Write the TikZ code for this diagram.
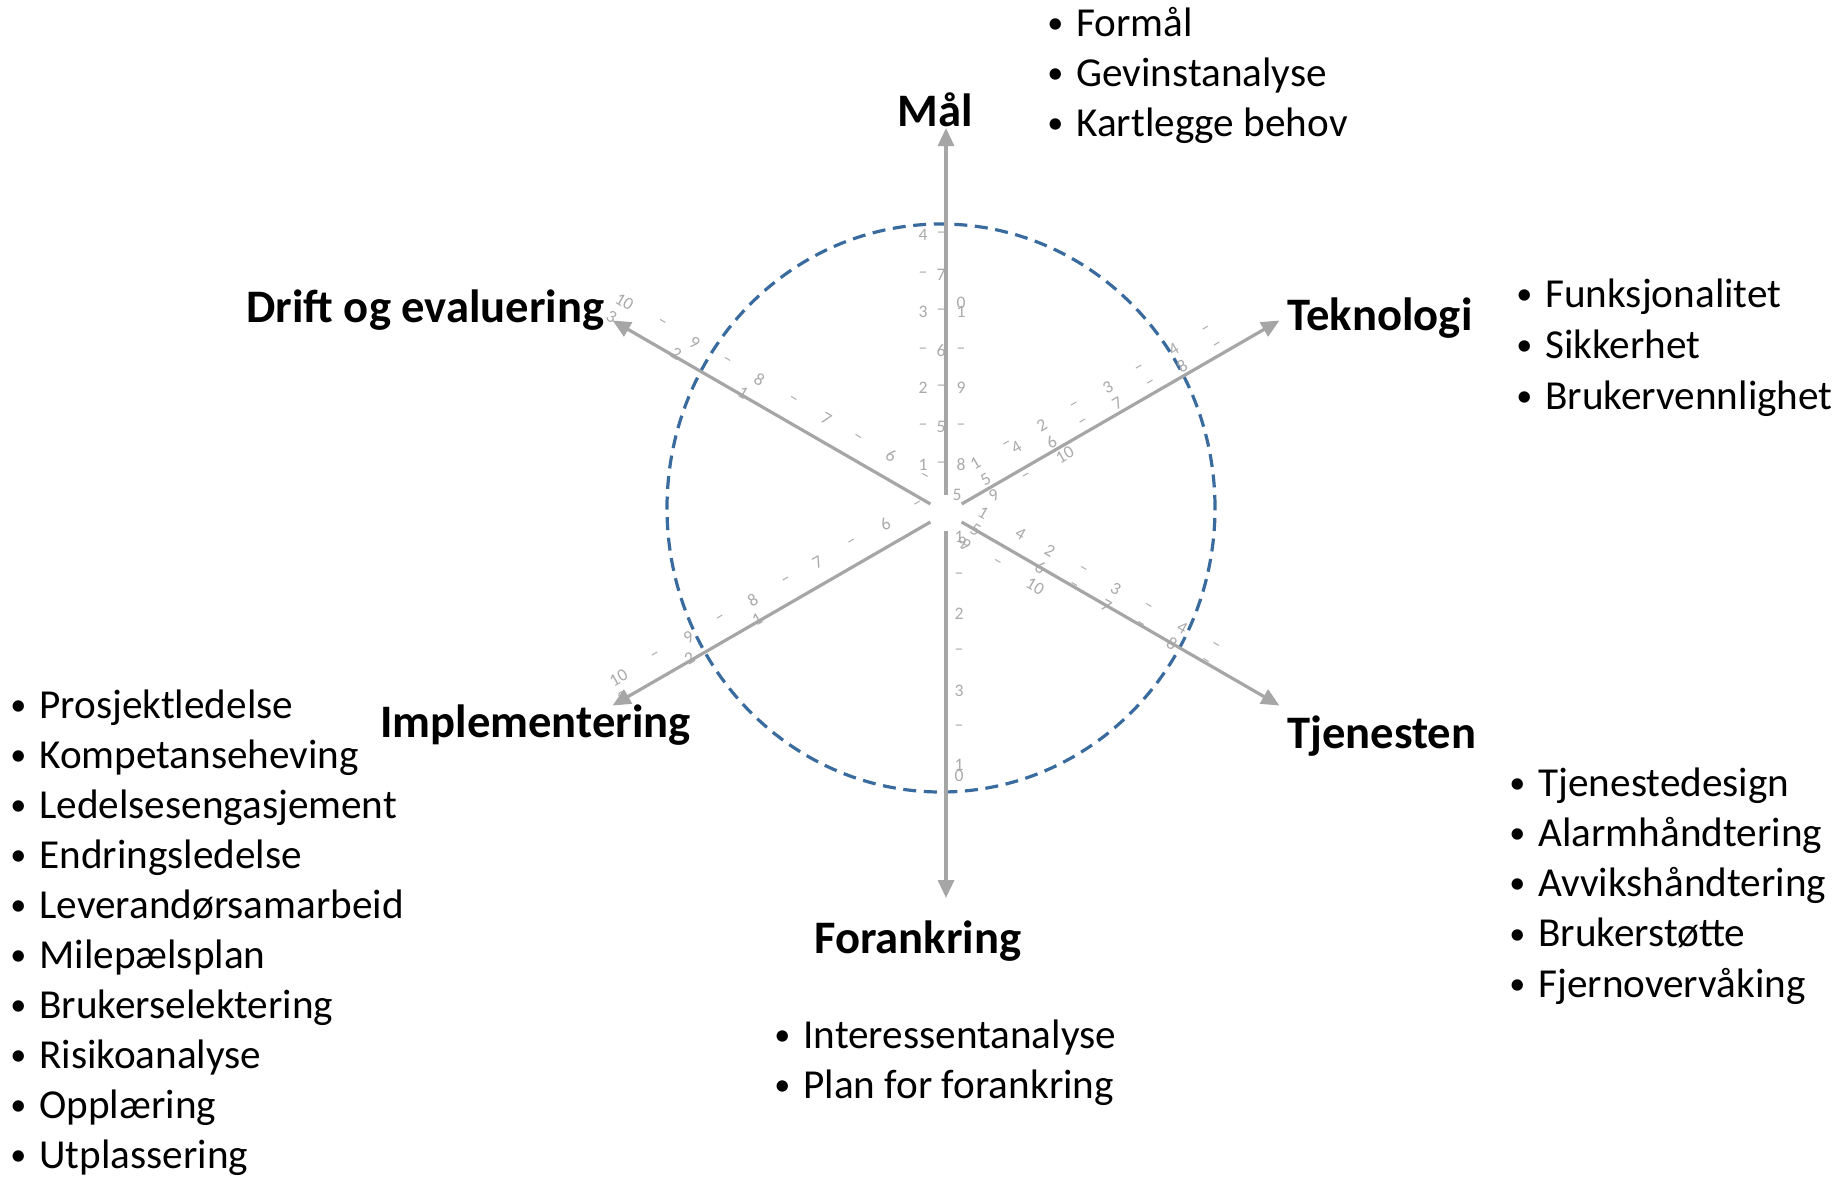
\documentclass[tikz,border=0pt]{standalone}
\usepackage{fontspec}
\setmainfont{Carlito}
\usetikzlibrary{arrows.meta,calc}
\definecolor{axisgray}{RGB}{166,166,166}
\definecolor{tickgray}{RGB}{170,170,170}
\definecolor{ringblue}{RGB}{58,107,158}
\newcommand\bul{\makebox[0pt][c]{\raisebox{0.07em}{\scalebox{0.78}{•}}}\hspace{10.5pt}}
\begin{document}
\begin{tikzpicture}
  [x=0.5pt,y=0.5pt,
   axis/.style={draw=axisgray,line width=1.6pt,-{Triangle[length=9pt,width=8pt]}},
   ring/.style={draw=ringblue,line width=1.6pt,dash pattern=on 6.5pt off 3.8pt},
   title/.style={anchor=base west,inner sep=0pt,font=\fontsize{23.3}{28}\selectfont\bfseries},
   item/.style={anchor=base west,inner sep=0pt,font=\fontsize{20.6}{25}\selectfont},
   tk/.style={text=tickgray,inner sep=0pt,font=\fontsize{8.8}{10}\selectfont}]
  \useasboundingbox (0,0) rectangle (1840,-1178);
  \coordinate (c) at (946,-513);

  \draw[ring] (941,-508) ellipse [x radius=274,y radius=284];

  % tick labels
  \foreach \d/\p/\t [count=\k] in {48/23/1,125/23/2,201/23/3,278/23/4,86/23/–,162/23/–,238/23/–,
      86/5/5,162/5/6,238/5/7,48/5/–,125/5/–,201/5/–,278/5/–,
      48/-15/8,125/-15/9,201/-15/1,210/-15/0,86/-15/–,162/-15/–,18/-11/5}
    \node[tk] (malt\k) at ($(c)+(90:\d)+(180:\p)$) {\t};
  \foreach \d/\p/\t [count=\k] in {24/13/1,30/16/9,101/13/2,178/13/3,252/13/1,263/13/0,
      63/13/–,139/13/–,215/13/–}
    \node[tk] (fort\k) at ($(c)+(-90:\d)+(0:\p)$) {\t};
  \foreach \d/\p/\t [count=\k] in {50/28/1,127/28/2,203/28/3,279/28/4,94/22/4,87/28/–,165/28/–,240/28/–,317/28/–,
      51/9/5,127/9/6,203/9/7,278/9/8,164/9/–,242/9/–,319/9/–,
      50/-9/9,132/-9/10,88/-9/–}
    \node[tk,rotate=30] (tekt\k) at ($(c)+(30:\d)+(120:\p)$) {\t};
  \foreach \d/\p/\t [count=\k] in {32/19/1,75/19/4,109/19/2,185/19/3,262/19/4,147/19/–,222/19/–,300/19/–,
      34/0/5,109/0/6,185/0/7,261/0/8,147/0/–,224/0/–,299/0/–,
      33/-18/9,114/-19/10,69/-18/–}
    \node[tk,rotate=-30] (tjet\k) at ($(c)+(-30:\d)+(60:\p)$) {\t};
  \foreach \d/\p/\t [count=\k] in {58/-21/6,136/-21/7,211/-21/8,285/-21/9,366/-21/10,
      20/-21/–,96/-21/–,172/-21/–,248/-21/–,323/-21/–,
      217/-2/1,295/-2/2,372/-2/3}
    \node[tk,rotate=30] (impt\k) at ($(c)+(210:\d)+(300:\p)$) {\t};
  \foreach \d/\p/\t [count=\k] in {76/-22/6,151/-22/7,228/-22/8,303/-22/9,384/-22/10,
      37/-20/–,114/-20/–,189/-21/–,266/-22/–,341/-22/–,
      236/-3/1,313/-3/2,388/-3/3}
    \node[tk,rotate=-30] (drit\k) at ($(c)+(150:\d)+(240:\p)$) {\t};

  % axes
  \foreach \n/\a in {mal/90,tek/30,tje/-30,for/-90,imp/210,dri/150}{
    \coordinate (\n0) at ($(c)+(\a:18)$);
    \coordinate (\n1) at ($(c)+(\a:385)$);
  }
  \draw[axis] (mal0) -- (mal1);
  \draw[axis] (tek0) -- (tek1);
  \draw[axis] (tje0) -- (tje1);
  \draw[axis] (for0) -- (for1);
  \draw[axis] (imp0) -- (imp1);
  \draw[axis] (dri0) -- (dri1);

  % titles
  \node[title] (mal) at (897,-126) {Mål};
  \node[title] (tek) at (1287,-330) {Teknologi};
  \node[title] (tje) at (1287,-748) {Tjenesten};
  \node[title] (for) at (814,-953) {Forankring};
  \node[title] (imp) at (380,-737) {Implementering};
  \node[title] (dri) at (246,-322) {Drift og evaluering};

  % lists
  \foreach \t [count=\i from 0] in {Formål,Gevinstanalyse,Kartlegge behov}
    \node[item] (malL\i) at (1055,-36-50*\i) {\bul\t};
  \foreach \t [count=\i from 0] in {Funksjonalitet,Sikkerhet,Brukervennlighet}
    \node[item] (tekL\i) at (1524,-307-51*\i) {\bul\t};
  \foreach \t [count=\i from 0] in {Tjenestedesign,Alarmhåndtering,Avvikshåndtering,Brukerstøtte,Fjernovervåking}
    \node[item] (tjeL\i) at (1517,-796-50.3*\i) {\bul\t};
  \foreach \t [count=\i from 0] in {Interessentanalyse,Plan for forankring}
    \node[item] (forL\i) at (782,-1048-50*\i) {\bul\t};
  \foreach \t [count=\i from 0] in {Prosjektledelse,Kompetanseheving,Ledelsesengasjement,Endringsledelse,
      Leverandørsamarbeid,Milepælsplan,Brukerselektering,Risikoanalyse,Opplæring,Utplassering}
    \node[item] (impL\i) at (18,-718-50*\i) {\bul\t};

\end{tikzpicture}
\end{document}
